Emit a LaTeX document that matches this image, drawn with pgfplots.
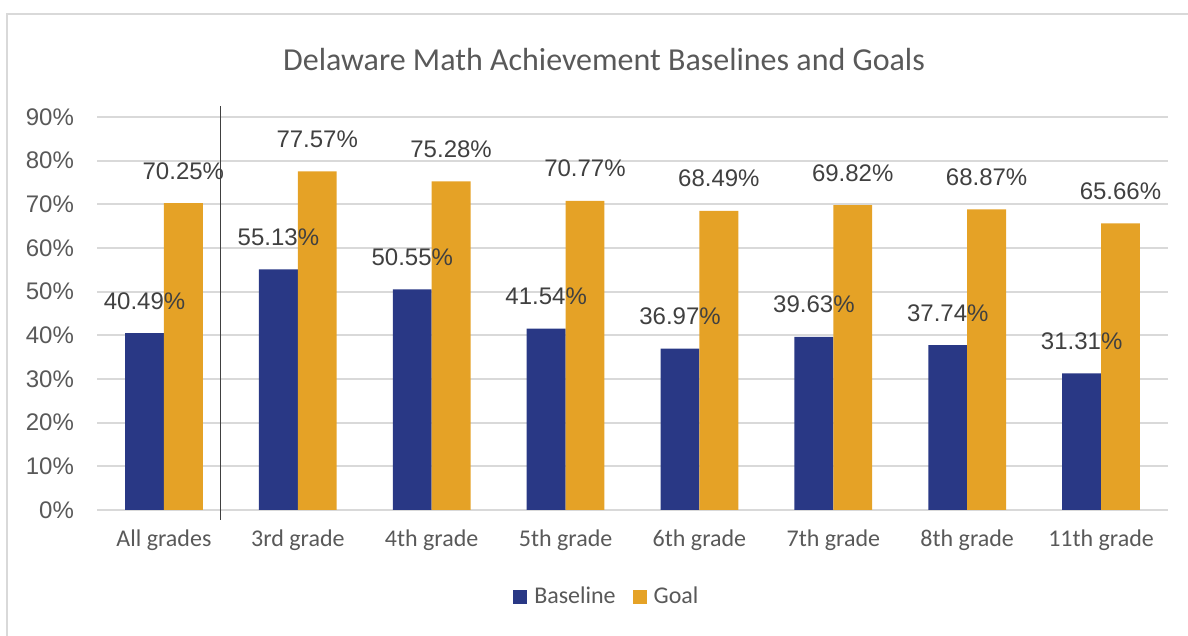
\documentclass[border=0pt]{standalone}
\usepackage{pgfplots}
\pgfplotsset{compat=1.18}
\usepackage{fontspec}
\setmainfont{Carlito}
\newfontfamily\arial{Liberation Sans}
\definecolor{baseblue}{HTML}{293885}
\definecolor{goalorange}{HTML}{E5A226}
\definecolor{txtgray}{HTML}{595959}
\definecolor{lblgray}{HTML}{404040}
\definecolor{gridgray}{HTML}{D9D9D9}
\pgfplotstableread{
x base goal
0 40.49 70.25
1 55.13 77.57
2 50.55 75.28
3 41.54 70.77
4 36.97 68.49
5 39.63 69.82
6 37.74 68.87
7 31.31 65.66
}\datatable
\begin{document}
\begin{tikzpicture}
\useasboundingbox (0pt,0pt) rectangle (594pt,318pt);
\draw[gridgray, line width=0.8pt] (3.5pt,-3pt) -- (3.5pt,311pt) -- (598pt,311pt);
\node[font=\fontsize{16}{19}\selectfont, text=txtgray] at (302pt,288pt) {Delaware Math Achievement Baselines and Goals};
\begin{axis}[
  at={(48.5pt,63pt)}, anchor=south west,
  scale only axis, width=535.5pt, height=196.5pt,
  ybar=0pt, bar width=0.29,
  xmin=-0.5, xmax=7.5, ymin=0, ymax=90,
  axis line style={draw=none},
  clip=false,
  ymajorgrids,
  ytick={0,10,...,90},
  grid style={gridgray, line width=0.9pt},
  xtick=data,
  xticklabels={All grades,3rd grade,4th grade,5th grade,6th grade,7th grade,8th grade,11th grade},
  yticklabels={0\%,10\%,20\%,30\%,40\%,50\%,60\%,70\%,80\%,90\%},
  xticklabel style={font=\fontsize{12}{14}\selectfont, text=txtgray, anchor=base, yshift=-18.5pt},
  yticklabel style={font=\arial\fontsize{12}{14}\selectfont, text=txtgray, xshift=-8pt},
  major tick length=0pt,
  nodes near coords={\pgfmathprintnumber[fixed,fixed zerofill,precision=2,assume math mode=true]{\pgfplotspointmeta}\%},
  every node near coord/.append style={font=\arial\fontsize{12}{14}\selectfont, text=lblgray, inner sep=0pt, anchor=base, yshift=12pt},
  legend style={draw=none, at={(0.477,-0.221)}, anchor=center, legend columns=2,
    font=\fontsize{12}{14}\selectfont, text=txtgray,
    /tikz/every even column/.append style={column sep=6.5pt}},
  legend image code/.code={\fill[#1] (0pt,-3.5pt) rectangle (7pt,3.5pt); \path (8.5pt,0pt);},
]
\addplot[fill=baseblue, draw=none] table[x=x,y=base]{\datatable};
\addplot[fill=goalorange, draw=none] table[x=x,y=goal]{\datatable};
\draw[lblgray, line width=0.6pt] (axis cs:0.424,92.5) -- (axis cs:0.424,-2.3);
\legend{Baseline,Goal}
\end{axis}
\end{tikzpicture}
\end{document}
